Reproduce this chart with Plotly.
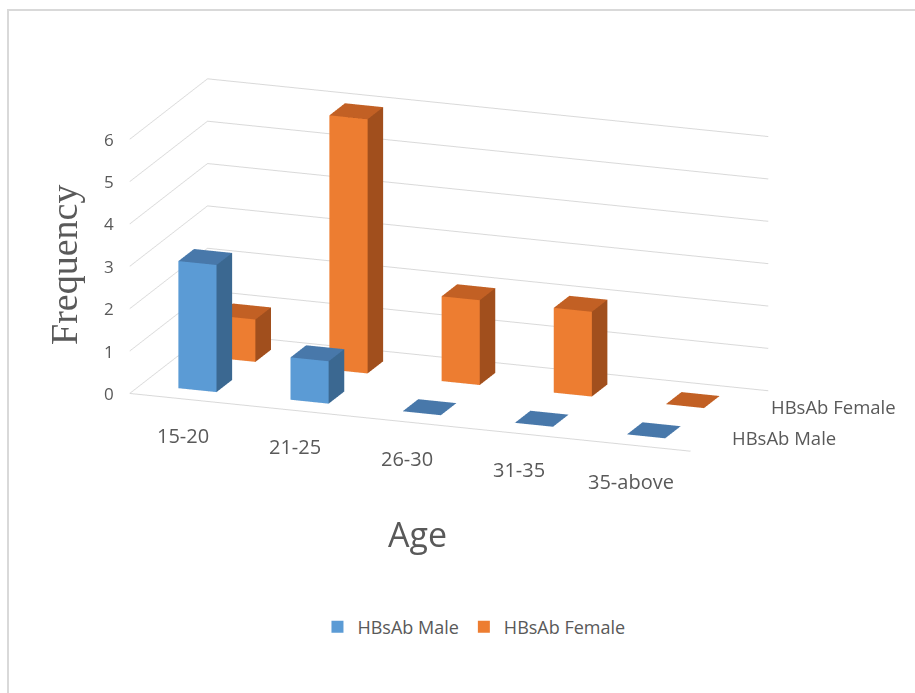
import plotly.graph_objects as go

# ---- data ----
age_groups = ["15-20", "21-25", "26-30", "31-35", "35-above"]
series_names = ["HBsAb Male", "HBsAb Female"]
male_values = [3, 1, 0, 0, 0]
female_values = [1, 6, 2, 2, 0]
z_ticks = [0, 1, 2, 3, 4, 5, 6]

# ---- styles ----
colors = {
    "HBsAb Male": {"front": "#5b9bd5", "side": "#3b6891", "top": "#4878aa"},
    "HBsAb Female": {"front": "#ed7d31", "side": "#a14f1d", "top": "#c26024"},
}
BAR_W = 0.34
BAR_D = 0.40
FONT = "'Open Sans', Lato, sans-serif"
GRAY = "#595959"


def box_mesh(values, row, col):
    xs, ys, zs, ii, jj, kk, fc = [], [], [], [], [], [], []
    for ci, v in enumerate(values):
        x0, x1 = ci - BAR_W / 2, ci + BAR_W / 2
        y0, y1 = row - BAR_D / 2, row + BAR_D / 2
        z0, z1 = 0, v
        base = len(xs)
        pts = [(x0, y0, z0), (x1, y0, z0), (x1, y1, z0), (x0, y1, z0),
               (x0, y0, z1), (x1, y0, z1), (x1, y1, z1), (x0, y1, z1)]
        for p in pts:
            xs.append(p[0]); ys.append(p[1]); zs.append(p[2])
        faces = [
            ((0, 1, 5), "front"), ((0, 5, 4), "front"),
            ((1, 2, 6), "side"), ((1, 6, 5), "side"),
            ((4, 5, 6), "top"), ((4, 6, 7), "top"),
            ((3, 2, 6), "side"), ((3, 6, 7), "side"),
            ((0, 3, 7), "front"), ((0, 7, 4), "front"),
            ((0, 1, 2), "top"), ((0, 2, 3), "top"),
        ]
        for (a, b, c), kind in faces:
            ii.append(base + a); jj.append(base + b); kk.append(base + c)
            fc.append(col[kind])
    return xs, ys, zs, ii, jj, kk, fc


fig = go.Figure()
for row, (name, vals) in enumerate(zip(series_names, [male_values, female_values])):
    xs, ys, zs, ii, jj, kk, fc = box_mesh(vals, row, colors[name])
    fig.add_trace(go.Mesh3d(
        x=xs, y=ys, z=zs, i=ii, j=jj, k=kk, facecolor=fc,
        flatshading=True, showlegend=False, hoverinfo="skip",
        lighting=dict(ambient=1, diffuse=0, specular=0, roughness=1, fresnel=0),
        scene="scene",
    ))

# legend entries
for name in series_names:
    fig.add_trace(go.Scatter(
        x=[None], y=[None], mode="markers", name=name,
        marker=dict(symbol="square", size=12, color=colors[name]["front"]),
    ))

X_RANGE = [-0.5, len(age_groups) - 0.5]
Y_RANGE = [-0.5, len(series_names) - 0.5]
Z_RANGE = [0, max(z_ticks)]

# tick labels as scene annotations anchored to data positions
scene_ann = []
for ci, lab in enumerate(age_groups):
    scene_ann.append(dict(x=ci, y=Y_RANGE[0], z=0, text=lab, showarrow=False,
                          xanchor="center", yanchor="middle", xshift=-3, yshift=-36,
                          font=dict(family=FONT, size=20, color=GRAY)))
for ri, lab in enumerate(series_names):
    scene_ann.append(dict(x=X_RANGE[1], y=ri, z=0, text=lab, showarrow=False,
                          xanchor="left", yanchor="middle", xshift=20, yshift=-1,
                          font=dict(family=FONT, size=18.5, color=GRAY)))
for zv in z_ticks:
    scene_ann.append(dict(x=X_RANGE[0], y=Y_RANGE[0], z=zv, text=str(zv), showarrow=False,
                          xanchor="right", yanchor="middle", xshift=-14, yshift=0,
                          font=dict(family=FONT, size=17, color=GRAY)))

axis_common = dict(
    showbackground=False, showspikes=False, zeroline=False,
    title=dict(text=""), showticklabels=False, ticks="",
)

fig.update_layout(
    width=915, height=693,
    margin=dict(l=0, r=0, t=0, b=0),
    paper_bgcolor="white", plot_bgcolor="white",
    font=dict(family=FONT, color=GRAY),
    xaxis=dict(visible=False), yaxis=dict(visible=False),
    scene=dict(
        domain=dict(x=[0.0011, 0.9803], y=[0.2352, 1.0]),
        aspectmode="manual",
        aspectratio=dict(x=2.252, y=0.858, z=1.0),
        camera=dict(
            eye=dict(x=0.761, y=-2.090, z=0.656),
            up=dict(x=0, y=0, z=1),
            center=dict(x=0, y=0, z=0),
            projection=dict(type="orthographic"),
        ),
        xaxis=dict(axis_common, range=X_RANGE, showgrid=False, showline=True,
                   linecolor="#d9d9d9", linewidth=2),
        yaxis=dict(axis_common, range=Y_RANGE, showgrid=False, showline=False),
        zaxis=dict(axis_common, range=Z_RANGE, tickvals=z_ticks, showgrid=True,
                   gridcolor="#d9d9d9", gridwidth=2, showline=False),
        annotations=scene_ann,
    ),
    legend=dict(orientation="h", x=0.518, xanchor="center", y=0.095, yanchor="middle",
                font=dict(family=FONT, size=18, color=GRAY), itemwidth=30,
                tracegroupgap=0),
    shapes=[dict(type="rect", xref="paper", yref="paper", x0=8 / 915, x1=1.05,
                 y0=-0.05, y1=1 - 10 / 693, line=dict(color="#d9d9d9", width=2),
                 fillcolor="rgba(0,0,0,0)")],
    annotations=[
        dict(text="Frequency", xref="paper", yref="paper", x=64 / 915, y=1 - 265 / 693,
             xanchor="center", yanchor="middle",
             showarrow=False, textangle=-90,
             font=dict(family="'Liberation Serif', 'Times New Roman', serif", size=38, color=GRAY)),
        dict(text="Age", xref="paper", yref="paper", x=417 / 915, y=1 - 534 / 693,
             xanchor="center", yanchor="middle",
             showarrow=False, font=dict(family=FONT, size=34, color=GRAY)),
    ],
)

fig.write_html("out.html")
